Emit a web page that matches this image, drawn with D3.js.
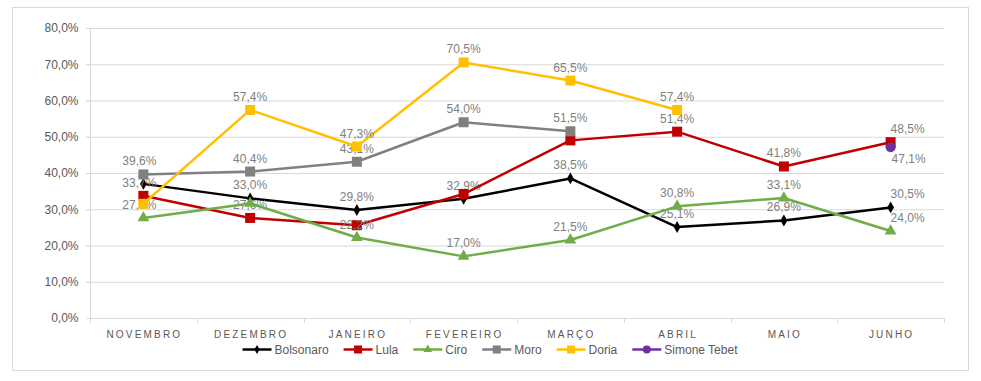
<!DOCTYPE html>
<html><head><meta charset="utf-8">
<script src="https://cdn.jsdelivr.net/npm/d3@7/dist/d3.min.js"></script>
<style>body{margin:0;background:#fff}svg{display:block}</style>
</head><body><svg id="c" width="981" height="381"></svg>
<script>
const months = ["NOVEMBRO","DEZEMBRO","JANEIRO","FEVEREIRO","MARÇO","ABRIL","MAIO","JUNHO"];
const yTicks = [0,10,20,30,40,50,60,70,80];
const bolsonaro = [37.0,33.0,29.8,32.9,38.5,25.1,26.9,30.5];
const lula = [33.7,27.6,25.6,34.2,49.0,51.4,41.8,48.5];
const ciro = [27.6,31.6,22.2,17.0,21.5,30.8,33.1,24.0];
const moro = [39.6,40.4,43.1,54.0,51.5,null,null,null];
const doria = [31.5,57.4,47.3,70.5,65.5,57.4,null,null];
const tebet = [null,null,null,null,null,null,null,47.1];
const seriesNames = ["Bolsonaro","Lula","Ciro","Moro","Doria","Simone Tebet"];
const seriesColors = ["#000000","#c00000","#70ad47","#808080","#ffc000","#7030a0"];
const seriesMarkers = ["diamond","square","triangle","square","square","circle"];
const hiddenLabels = ["Bolsonaro:0","Lula:3","Lula:4","Lula:2","Ciro:1","Doria:0"];
const seriesValues = [bolsonaro,lula,ciro,moro,doria,tebet];

const svg = d3.select("#c");
svg.append("rect").attr("x",12.5).attr("y",7.5).attr("width",956).attr("height",363)
  .attr("fill","#fff").attr("stroke","#d9d9d9");

const x = d3.scaleBand().domain(months).range([90,944]);
const y = d3.scaleLinear().domain([0,80]).range([318,28]);
const fmt = v => d3.format(".1f")(v).replace(".",",")+"%";

// gridlines
svg.append("g").selectAll("line").data(yTicks.filter(t=>t>0)).join("line")
  .attr("x1",86).attr("x2",944).attr("y1",d=>y(d)+0.5).attr("y2",d=>y(d)+0.5)
  .attr("stroke","#d9d9d9");
// y axis
const ya = svg.append("g").attr("transform","translate(90.5,0)")
  .call(d3.axisLeft(y).tickValues(yTicks).tickSize(4).tickPadding(8).tickFormat(d=>d3.format(".1f")(d).replace(".",",")+"%"));
ya.select(".domain").attr("stroke","#d9d9d9").attr("d","M0,28V318");
ya.selectAll(".tick line").attr("stroke","#d9d9d9");
ya.selectAll("text").attr("fill","#595959").style("font","12px 'Liberation Sans', Arial, sans-serif");
// x axis
const xa = svg.append("g").attr("transform","translate(0,318.5)")
  .call(d3.axisBottom(x).tickSize(0).tickPadding(12));
xa.select(".domain").attr("stroke","#d9d9d9").attr("d","M90,0H944");
xa.selectAll(".tick text").attr("fill","#595959").attr("dx","1px")
  .style("font","10px 'Liberation Sans', Arial, sans-serif").style("letter-spacing","2.2px");
const bounds = x.domain().map(d=>x(d)).concat([944]);
svg.append("g").selectAll("line").data(bounds).join("line")
  .attr("x1",d=>Math.round(d)+0.5).attr("x2",d=>Math.round(d)+0.5).attr("y1",318).attr("y2",323)
  .attr("stroke","#d9d9d9");

function marker(g, type, color, size){
  if(type==="diamond"){
    g.append("path").attr("d",d3.symbol(d3.symbolDiamond,size*size*0.5)()).attr("fill",color);
  } else if(type==="square"){
    g.append("rect").attr("x",-size/2).attr("y",-size/2).attr("width",size).attr("height",size).attr("fill",color);
  } else if(type==="triangle"){
    g.append("path").attr("d",d3.symbol(d3.symbolTriangle,size*size*0.5)()).attr("fill",color);
  } else {
    g.append("circle").attr("r",size/2).attr("fill",color);
  }
}
const markerSize = {diamond:9,square:10,triangle:11,circle:10};

const line = d3.line().defined(d=>d!=null).x((d,i)=>x(months[i])+x.bandwidth()/2).y(d=>y(d));
seriesValues.forEach((vals,si)=>{
  const color = seriesColors[si];
  const sg = svg.append("g");
  sg.append("path").attr("d",line(vals)).attr("fill","none").attr("stroke",color)
    .attr("stroke-width",2.5).attr("stroke-linejoin","round");
  const mg = sg.append("g"), lg = sg.append("g");
  vals.forEach((v,i)=>{
    if(v==null) return;
    const cx = x(months[i])+x.bandwidth()/2, cy = y(v);
    const g = mg.append("g").attr("transform",`translate(${cx},${cy})`);
    const m = seriesMarkers[si];
    marker(g,m,color,markerSize[m]);
    if(hiddenLabels.includes(seriesNames[si]+":"+i)) return;
    let dx = 0, dy = -9;
    if(i===0) dx = -4;
    if(i===months.length-1) dx = 17;
    if(seriesNames[si]==="Simone Tebet"){ dx = 18; dy = 16; }
    lg.append("text").attr("x",cx+dx).attr("y",cy+dy).attr("text-anchor","middle")
      .attr("fill","#7f7f7f").style("font","12px 'Liberation Sans', Arial, sans-serif").text(fmt(v));
  });
});

// legend
const leg = svg.append("g");
let lx = 0;
seriesNames.forEach((n,si)=>{
  const g = leg.append("g").attr("transform",`translate(${lx},0)`);
  g.append("line").attr("x1",0).attr("x2",29).attr("y1",0).attr("y2",0).attr("stroke",seriesColors[si]).attr("stroke-width",2.5);
  const mg = g.append("g").attr("transform","translate(14.5,0)");
  const m = seriesMarkers[si];
  marker(mg,m,seriesColors[si],m==="diamond"?7:8);
  const t = g.append("text").attr("x",32).attr("y",4.5).attr("fill","#595959")
    .style("font","12px 'Liberation Sans', Arial, sans-serif").text(n);
  lx += 32 + t.node().getComputedTextLength() + 15;
});
const totalW = lx - 15;
leg.attr("transform",`translate(${490 - totalW/2},349.5)`);
</script></body></html>
